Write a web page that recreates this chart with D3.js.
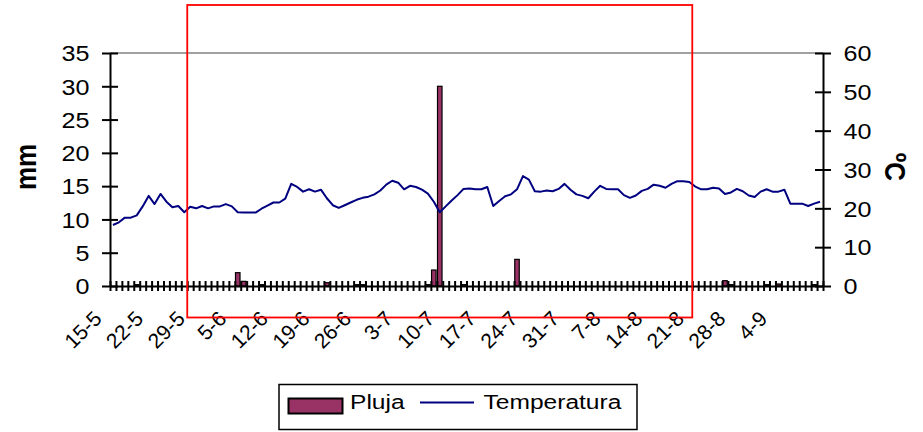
<!DOCTYPE html>
<html><head><meta charset="utf-8">
<script src="https://cdn.jsdelivr.net/npm/d3@7"></script>
<style>
body{margin:0;background:#fff;}
svg{display:block;font-family:"Liberation Sans",Arial,sans-serif;}
</style>
</head><body>
<svg id="c" width="923" height="432"></svg>
<script>
// ---------- data ----------
const days = [
 "15-5","16-5","17-5","18-5","19-5","20-5","21-5","22-5","23-5","24-5","25-5","26-5","27-5","28-5","29-5","30-5","31-5",
 "1-6","2-6","3-6","4-6","5-6","6-6","7-6","8-6","9-6","10-6","11-6","12-6","13-6","14-6","15-6","16-6","17-6","18-6","19-6","20-6",
 "21-6","22-6","23-6","24-6","25-6","26-6","27-6","28-6","29-6","30-6",
 "1-7","2-7","3-7","4-7","5-7","6-7","7-7","8-7","9-7","10-7","11-7","12-7","13-7","14-7","15-7","16-7","17-7","18-7","19-7","20-7",
 "21-7","22-7","23-7","24-7","25-7","26-7","27-7","28-7","29-7","30-7","31-7",
 "1-8","2-8","3-8","4-8","5-8","6-8","7-8","8-8","9-8","10-8","11-8","12-8","13-8","14-8","15-8","16-8","17-8","18-8","19-8","20-8",
 "21-8","22-8","23-8","24-8","25-8","26-8","27-8","28-8","29-8","30-8","31-8",
 "1-9","2-9","3-9","4-9","5-9","6-9","7-9","8-9","9-9","10-9","11-9"
];
const tickLabels = ["15-5","22-5","29-5","5-6","12-6","19-6","26-6","3-7","10-7","17-7","24-7","31-7","7-8","14-8","21-8","28-8","4-9"];
const pluja = [
 0,0,0,0,0.2,0,0,0,0,0,
 0,0,0,0,0,0,0,0,0,0,
 0,2.0,0.7,0,0,0.2,0,0,0,0,
 0,0,0,0,0,0,0.5,0,0,0,
 0,0.2,0.2,0,0,0,0,0,0,0,
 0,0,0,0.2,2.4,30.0,0,0,0,0.2,
 0,0,0,0,0,0,0,0,4.0,0,
 0,0,0,0,0,0,0,0,0,0,
 0,0,0,0,0,0,0,0,0,0,
 0,0,0,0,0,0,0,0,0,0,
 0,0,0,0.8,0.2,0,0,0,0,0,
 0.2,0,0.3,0,0,0,0,0,0.2,0
];
const temperatura = [
 15.7,16.4,17.6,17.6,18.2,20.5,23.2,21.1,23.7,21.7,
 20.3,20.6,19.0,20.4,20.0,20.6,20.0,20.5,20.5,21.1,
 20.5,19.0,18.9,18.9,18.9,19.9,20.7,21.5,21.5,22.5,
 26.3,25.5,24.3,24.9,24.3,24.8,22.6,20.8,20.1,20.8,
 21.5,22.2,22.7,23.0,23.6,24.6,26.1,27.1,26.6,24.9,
 25.8,25.5,24.8,23.8,21.7,19.0,20.5,22.0,23.4,25.0,
 25.1,24.9,24.9,25.5,20.6,21.9,23.1,23.6,24.9,28.3,
 27.4,24.4,24.3,24.6,24.4,25.0,26.3,24.8,23.6,23.2,
 22.6,24.3,25.8,25.0,24.9,24.9,23.4,22.7,23.3,24.5,
 25.0,26.1,25.8,25.3,26.3,27.0,27.0,26.8,25.6,24.9,
 24.9,25.3,25.1,23.7,24.1,25.0,24.4,23.3,22.9,24.3,
 24.9,24.3,24.3,24.8,21.2,21.2,21.2,20.6,21.2,21.7
];
const leftTicks = [0,5,10,15,20,25,30,35];
const rightTicks = [0,10,20,30,40,50,60];
const highlightRange = ["28-5","20-8"];   // red frame, first and last day inside it
const seriesNames = ["Pluja","Temperatura"];
const axisTitles = ["mm","ºC"];

// ---------- layout ----------
const svg = d3.select("#c");
const X0 = 110, X1 = 823, Y0 = 286, Y1 = 53;
const SX = 1.17; // horizontal stretch of horizontal text
const FONT = '"Liberation Sans",Arial,sans-serif';
const x = d3.scaleBand().domain(days).range([X0, X1]).paddingInner(0).paddingOuter(0);
const xb = d3.scaleLinear().domain([0, days.length]).range([X0, X1]); // category boundaries
const bw = x.bandwidth();
const cx = d => x(d) + bw / 2;
const yL = d3.scaleLinear().domain([0, 35]).range([Y0, Y1]);
const yR = d3.scaleLinear().domain([0, 60]).range([Y0, Y1]);

// plot area top border (grey)
svg.append("line").attr("x1", X0).attr("x2", X1).attr("y1", yL(35)).attr("y2", yL(35))
  .attr("stroke", "#808080").attr("stroke-width", 1.5);

// bars
svg.append("g").selectAll("rect")
  .data(days.map((d, i) => ({ d, v: pluja[i] })).filter(o => o.v > 0))
  .join("rect")
  .attr("x", o => cx(o.d) - bw * 0.38)
  .attr("width", bw * 0.76)
  .attr("y", o => yL(o.v))
  .attr("height", o => yL(0) - yL(o.v))
  .attr("fill", "#993366").attr("stroke", "#000").attr("stroke-width", 1.2);

// temperature line
svg.append("path").datum(temperatura)
  .attr("fill", "none").attr("stroke", "#000080").attr("stroke-width", 2)
  .attr("stroke-linejoin", "round")
  .attr("d", d3.line().x((v, i) => cx(days[i])).y(v => yR(v)));

// x axis: ticks at category boundaries
const gxT = svg.append("g").attr("transform", `translate(0,${Y0})`)
  .call(d3.axisBottom(xb).tickValues(d3.range(0, days.length + 1)).tickFormat("").tickSizeOuter(0));
gxT.select(".domain").attr("stroke", "#000").attr("stroke-width", 2);
gxT.selectAll(".tick line").attr("y1", -5).attr("y2", 5).attr("stroke", "#000").attr("stroke-width", 2);

// x axis labels
const gxL = svg.append("g").attr("transform", `translate(0,${Y0})`)
  .call(d3.axisBottom(x).tickValues(tickLabels).tickSize(0));
gxL.select(".domain").remove();
gxL.selectAll(".tick text")
  .attr("x", 0).attr("y", 0).attr("dy", 0)
  .attr("text-anchor", "end")
  .attr("transform", "translate(-10,34) rotate(-45)")
  .style("font-size", "21px").style("font-family", FONT).attr("fill", "#000");

// left axis
const gyL = svg.append("g").attr("transform", `translate(${X0},0)`)
  .call(d3.axisLeft(yL).tickValues(leftTicks).tickSizeOuter(0));
gyL.select(".domain").attr("stroke", "#000").attr("stroke-width", 2);
gyL.selectAll(".tick line").attr("x1", -8).attr("x2", 8).attr("stroke", "#000").attr("stroke-width", 2);
gyL.selectAll(".tick text")
  .attr("x", 0).attr("dy", "0.36em").attr("text-anchor", "end")
  .attr("transform", `translate(-20.5,0) scale(${SX},1)`)
  .style("font-size", "21.5px").style("font-family", FONT).attr("fill", "#000");

// right axis
const gyR = svg.append("g").attr("transform", `translate(${X1},0)`)
  .call(d3.axisRight(yR).tickValues(rightTicks).tickSizeOuter(0));
gyR.select(".domain").attr("stroke", "#000").attr("stroke-width", 2);
gyR.selectAll(".tick line").attr("x1", -8).attr("x2", 8).attr("stroke", "#000").attr("stroke-width", 2);
gyR.selectAll(".tick text")
  .attr("x", 0).attr("dy", "0.36em").attr("text-anchor", "start")
  .attr("transform", `translate(20.5,0) scale(${SX},1)`)
  .style("font-size", "21.5px").style("font-family", FONT).attr("fill", "#000");

// axis titles
svg.append("text").text(axisTitles[0])
  .attr("transform", `translate(28,167) scale(${SX},1) rotate(-90)`)
  .attr("text-anchor", "middle").attr("dy", "0.26em")
  .style("font-size", "26px").style("font-weight", "bold");
svg.append("text").text(axisTitles[1])
  .attr("transform", `translate(896,167) scale(${SX},1) rotate(90)`)
  .attr("text-anchor", "middle").attr("dy", "0.36em")
  .style("font-size", "26px").style("font-weight", "bold");

// legend
const lg = svg.append("g");
lg.append("rect").attr("x", 279).attr("y", 384.5).attr("width", 358).attr("height", 45)
  .attr("fill", "#fff").attr("stroke", "#000").attr("stroke-width", 1.5);
lg.append("rect").attr("x", 288.5).attr("y", 398.5).attr("width", 54).attr("height", 15)
  .attr("fill", "#993366").attr("stroke", "#000").attr("stroke-width", 2);
lg.append("text").text(seriesNames[0])
  .attr("transform", `translate(350,408.7) scale(${SX},1)`).style("font-size", "21px");
lg.append("line").attr("x1", 420).attr("x2", 474).attr("y1", 402.5).attr("y2", 402.5)
  .attr("stroke", "#000080").attr("stroke-width", 2);
lg.append("text").text(seriesNames[1])
  .attr("transform", `translate(483.5,408.7) scale(${SX},1)`).style("font-size", "21px");

// red highlight frame
const i0 = days.indexOf(highlightRange[0]), i1 = days.indexOf(highlightRange[1]) + 1;
svg.append("rect").attr("x", xb(i0)).attr("width", xb(i1) - xb(i0))
  .attr("y", 5).attr("height", 312.5)
  .attr("fill", "none").attr("stroke", "#ff0000").attr("stroke-width", 1.8);
</script>
</body></html>
